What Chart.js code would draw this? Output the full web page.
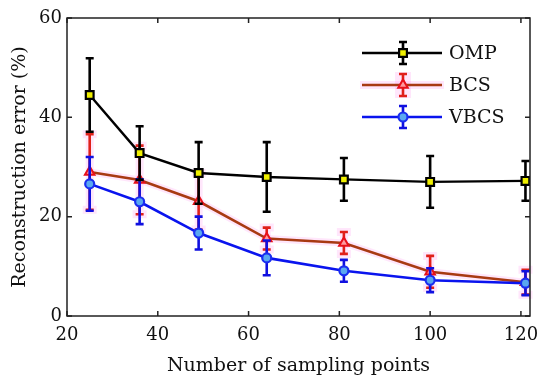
<!DOCTYPE html>
<html>
<head>
<meta charset="utf-8">
<script src="https://cdn.jsdelivr.net/npm/chart.js@4.4.1/dist/chart.umd.min.js"></script>
<style>
  html, body { margin: 0; padding: 0; background: #fff; }
  #wrap { width: 550px; height: 385px; }
</style>
</head>
<body>
<div id="wrap"><canvas id="chart"></canvas></div>
<script>
/* --------------- Data --------------------- */
const samplingPoints = [25, 36, 49, 64, 81, 100, 121];
const ompValues = [44.5, 32.8, 28.8, 28.0, 27.5, 27.0, 27.2];
const ompErrors = [7.4, 5.4, 6.2, 7.0, 4.3, 5.2, 4.0];
const bcsValues = [29.0, 27.4, 23.1, 15.6, 14.7, 8.9, 6.8];
const bcsErrors = [7.6, 6.9, 5.7, 2.2, 2.2, 3.2, 2.5];
const vbcsValues = [26.6, 23.0, 16.7, 11.7, 9.1, 7.2, 6.6];
const vbcsErrors = [5.4, 4.5, 3.3, 3.5, 2.2, 2.4, 2.4];
const xTicks = [20, 40, 60, 80, 100, 120];
const yTicks = [0, 20, 40, 60];
const seriesNames = ["OMP", "BCS", "VBCS"];

const FONT = "'DejaVu Serif', 'Liberation Serif', serif";
const toPoints = (vals) => vals.map((v, i) => ({ x: samplingPoints[i], y: v }));

/* --------------- Error bars, frame, legend --------------------- */
const errorBarPlugin = {
  id: "errorBars",
  beforeDatasetDraw(chart, args) {
    const ds = chart.data.datasets[args.index];
    if (!ds.errors) return;
    const ctx = chart.ctx;
    const xs = chart.scales.x, ys = chart.scales.y;
    ctx.save();
    const pass = (color, width, cap) => {
      ctx.strokeStyle = color;
      ctx.lineWidth = width;
      ds.data.forEach((p, i) => {
        const px = xs.getPixelForValue(p.x);
        const top = ys.getPixelForValue(p.y + ds.errors[i]);
        const bot = ys.getPixelForValue(p.y - ds.errors[i]);
        ctx.beginPath();
        ctx.moveTo(px, top); ctx.lineTo(px, bot);
        ctx.moveTo(px - cap, top); ctx.lineTo(px + cap, top);
        ctx.moveTo(px - cap, bot); ctx.lineTo(px + cap, bot);
        ctx.stroke();
      });
    };
    if (ds.glow) {
      pass(ds.glow, 8, 7);
      // soft halo under the line too
      const meta = chart.getDatasetMeta(args.index);
      ctx.strokeStyle = ds.glow;
      ctx.lineWidth = 7;
      ctx.beginPath();
      meta.data.forEach((pt, i) => { if (i) ctx.lineTo(pt.x, pt.y); else ctx.moveTo(pt.x, pt.y); });
      ctx.stroke();
    }
    pass(ds.errorColor, 2.6, 4);
    ctx.restore();
  },
  afterDraw(chart) {
    const ctx = chart.ctx;
    const a = chart.chartArea;
    const xs = chart.scales.x, ys = chart.scales.y;
    ctx.save();
    ctx.strokeStyle = "#222";
    ctx.lineWidth = 1.5;
    ctx.strokeRect(a.left, a.top, a.right - a.left, a.bottom - a.top);
    ctx.beginPath();
    xTicks.forEach((t) => {
      const px = xs.getPixelForValue(t);
      ctx.moveTo(px, a.bottom); ctx.lineTo(px, a.bottom - 5);
      ctx.moveTo(px, a.top); ctx.lineTo(px, a.top + 5);
    });
    yTicks.forEach((t) => {
      const py = ys.getPixelForValue(t);
      ctx.moveTo(a.left, py); ctx.lineTo(a.left + 5, py);
      ctx.moveTo(a.right, py); ctx.lineTo(a.right - 5, py);
    });
    ctx.stroke();

    // legend
    const lx0 = 362, lx1 = 442, mx = 403, rows = [53, 85, 117];
    ctx.font = "19px " + FONT;
    ctx.textBaseline = "middle";
    seriesNames.forEach((name, k) => {
      const ds = chart.data.datasets.find((d) => d.label === name);
      const y = rows[k];
      if (ds.glow) {
        ctx.fillStyle = ds.glow;
        ctx.fillRect(lx0 - 2, y - 4, lx1 - lx0 + 4, 8);
        ctx.fillRect(mx - 8, y - 13, 16, 26);
      }
      ctx.strokeStyle = ds.borderColor;
      ctx.lineWidth = 2.4;
      ctx.beginPath(); ctx.moveTo(lx0, y); ctx.lineTo(lx1, y); ctx.stroke();
      ctx.strokeStyle = ds.errorColor;
      ctx.lineWidth = 2.6;
      ctx.beginPath();
      ctx.moveTo(mx, y - 11); ctx.lineTo(mx, y + 11);
      ctx.moveTo(mx - 4, y - 11); ctx.lineTo(mx + 4, y - 11);
      ctx.moveTo(mx - 4, y + 11); ctx.lineTo(mx + 4, y + 11);
      ctx.stroke();
      ctx.fillStyle = ds.pointBackgroundColor;
      ctx.strokeStyle = ds.pointBorderColor;
      ctx.lineWidth = ds.pointBorderWidth;
      ctx.beginPath();
      if (ds.pointStyle === "rect") {
        const s = ds.pointRadius * Math.SQRT1_2;
        ctx.rect(mx - s, y - s, 2 * s, 2 * s);
      } else if (ds.pointStyle === "triangle") {
        const r = ds.pointRadius;
        ctx.moveTo(mx, y - r);
        ctx.lineTo(mx + r * 0.866, y + r * 0.5);
        ctx.lineTo(mx - r * 0.866, y + r * 0.5);
        ctx.closePath();
      } else {
        ctx.arc(mx, y, ds.pointRadius, 0, Math.PI * 2);
      }
      ctx.fill(); ctx.stroke();
      ctx.fillStyle = "#111";
      ctx.fillText(name, 449, y + 1);
    });
    ctx.restore();
  },
};

/* --------------- Chart --------------------- */
new Chart(document.getElementById("chart"), {
  type: "line",
  plugins: [errorBarPlugin],
  data: {
    datasets: [
      {
        label: "OMP",
        data: toPoints(ompValues),
        errors: ompErrors,
        errorColor: "#000",
        borderColor: "#000",
        borderWidth: 2.4,
        pointStyle: "rect",
        pointRadius: 5.5,
        pointBorderWidth: 2.2,
        pointBackgroundColor: "#f0f000",
        pointBorderColor: "#000",
        order: 0,
      },
      {
        label: "BCS",
        data: toPoints(bcsValues),
        errors: bcsErrors,
        errorColor: "#e0201a",
        glow: "rgba(255,130,235,0.2)",
        borderColor: "#a83a12",
        borderWidth: 2.6,
        pointStyle: "triangle",
        pointRadius: 5.5,
        pointBorderWidth: 2,
        pointBackgroundColor: "#ff9aa0",
        pointBorderColor: "#e8101a",
        order: 2,
      },
      {
        label: "VBCS",
        data: toPoints(vbcsValues),
        errors: vbcsErrors,
        errorColor: "#1010e0",
        borderColor: "#0a14ee",
        borderWidth: 2.6,
        pointStyle: "circle",
        pointRadius: 4.5,
        pointBorderWidth: 2.2,
        pointBackgroundColor: "#5aa8f0",
        pointBorderColor: "#1a2ef0",
        order: 1,
      },
    ],
  },
  options: {
    responsive: true,
    maintainAspectRatio: false,
    animation: false,
    layout: { padding: { left: 0, right: 20, top: 18, bottom: 0 } },
    plugins: { legend: { display: false }, tooltip: { enabled: false } },
    scales: {
      x: {
        type: "linear",
        min: 20,
        max: 122,
        afterBuildTicks: (s) => { s.ticks = xTicks.map((v) => ({ value: v })); },
        afterFit: (s) => { s.height = 69; },
        grid: { display: false, drawTicks: false },
        border: { display: false },
        ticks: { color: "#111", padding: 9, maxRotation: 0, font: { family: FONT, size: 18 } },
        title: {
          display: true,
          text: "Number of sampling points",
          color: "#111",
          padding: { top: 4, bottom: 8 },
          font: { family: FONT, size: 19 },
        },
      },
      y: {
        min: 0,
        max: 60,
        afterBuildTicks: (s) => { s.ticks = yTicks.map((v) => ({ value: v })); },
        afterFit: (s) => { s.width = 67; },
        grid: { display: false, drawTicks: false },
        border: { display: false },
        ticks: { color: "#111", padding: 5, font: { family: FONT, size: 18 } },
        title: {
          display: true,
          text: "Reconstruction error (%)",
          color: "#111",
          padding: { top: 9, bottom: 2 },
          font: { family: FONT, size: 19 },
        },
      },
    },
  },
});
</script>
</body>
</html>
